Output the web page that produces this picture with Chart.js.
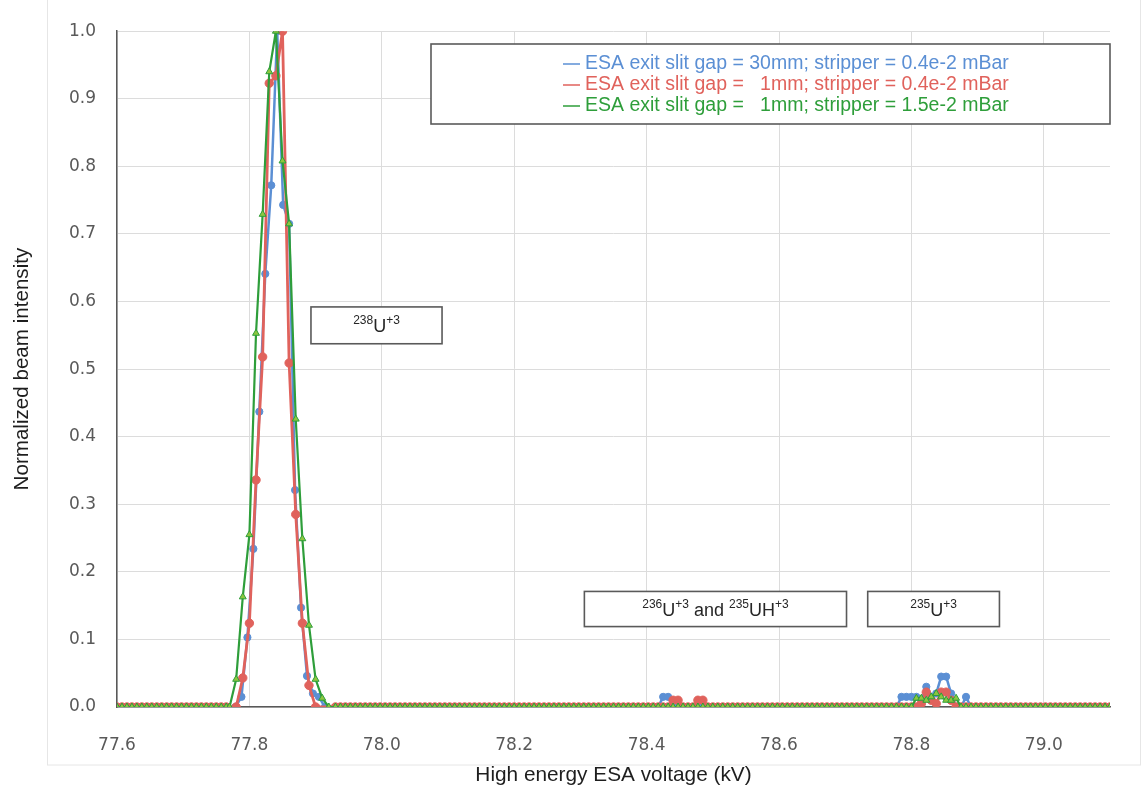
<!DOCTYPE html>
<html><head><meta charset="utf-8">
<script src="https://cdn.jsdelivr.net/npm/chart.js@4.4.1/dist/chart.umd.min.js"></script>
<style>html,body{margin:0;padding:0;background:#fff;overflow:hidden;}</style>
</head><body>
<canvas id="c" width="1143" height="790"></canvas>
<script>
// ---------- tick labels ----------
const xTickLabels = ['77.6','77.8','78.0','78.2','78.4','78.6','78.8','79.0'];
const yTickLabels = ['0.0','0.1','0.2','0.3','0.4','0.5','0.6','0.7','0.8','0.9','1.0'];

// ---------- series names ----------
const seriesLabels = [
  'ESA exit slit gap = 30mm; stripper = 0.4e-2 mBar',
  'ESA exit slit gap =   1mm; stripper = 0.4e-2 mBar',
  'ESA exit slit gap =   1mm; stripper = 1.5e-2 mBar'
];

// ---------- shared baseline scan segments (kV) and their intensities ----------
const scanLeftVoltage = [77.6,77.6075,77.615,77.6225,77.63,77.6375,77.645,77.6525,77.66,77.6675,
  77.675,77.6825,77.69,77.6975,77.705,77.7125,77.72,77.7275,77.735,77.7425,
  77.75,77.7575,77.765];
const scanLeftIntensity = [0,0,0,0,0,0,0,0,0,0, 0,0,0,0,0,0,0,0,0,0, 0,0,0];

const scanMidVoltage = [77.93,77.9375,77.945,77.9525,77.96,77.9675,77.975,77.9825,77.99,77.9975,
  78.005,78.0125,78.02,78.0275,78.035,78.0425,78.05,78.0575,78.065,78.0725,
  78.08,78.0875,78.095,78.1025,78.11,78.1175,78.125,78.1325,78.14,78.1475,
  78.155,78.1625,78.17,78.1775,78.185,78.1925,78.2,78.2075,78.215,78.2225,
  78.23,78.2375,78.245,78.2525,78.26,78.2675,78.275,78.2825,78.29,78.2975,
  78.305,78.3125,78.32,78.3275,78.335,78.3425,78.35,78.3575,78.365,78.3725,
  78.38,78.3875,78.395,78.4025,78.41,78.4175];
const scanMidIntensity = [0,0,0,0,0,0,0,0,0,0, 0,0,0,0,0,0,0,0,0,0,
  0,0,0,0,0,0,0,0,0,0, 0,0,0,0,0,0,0,0,0,0, 0,0,0,0,0,0,0,0,0,0,
  0,0,0,0,0,0,0,0,0,0, 0,0,0,0,0,0];

const scanGapVoltage = [78.545,78.5525,78.56,78.5675,78.575,78.5825,78.59,78.5975,78.605,78.6125,
  78.62,78.6275,78.635,78.6425,78.65,78.6575,78.665,78.6725,78.68,78.6875,
  78.695,78.7025,78.71,78.7175,78.725,78.7325,78.74,78.7475,78.755,78.7625,
  78.77];
const scanGapIntensity = [0,0,0,0,0,0,0,0,0,0, 0,0,0,0,0,0,0,0,0,0, 0,0,0,0,0,0,0,0,0,0, 0];

const scanRightVoltage = [78.905,78.9125,78.92,78.9275,78.935,78.9425,78.95,78.9575,78.965,78.9725,
  78.98,78.9875,78.995,79.0025,79.01,79.0175,79.025,79.0325,79.04,79.0475,
  79.055,79.0625,79.07,79.0775,79.085,79.0925,79.1];
const scanRightIntensity = [0,0,0,0,0,0,0,0,0,0, 0,0,0,0,0,0,0,0,0,0, 0,0,0,0,0,0,0];

// ---------- 238U+3 main peak ----------
const bluePeakVoltage   = [77.779,77.788,77.797,77.806,77.815,77.824,77.833,77.842,77.851,77.86,77.869,77.878,77.887,77.896,77.905,77.914];
const bluePeakIntensity = [0,0.015,0.103,0.234,0.437,0.641,0.772,1.0,0.743,0.715,0.321,0.147,0.046,0.02,0.015,0];
const redPeakVoltage    = [77.78,77.79,77.8,77.81,77.82,77.83,77.84,77.85,77.86,77.87,77.88,77.89,77.9];
const redPeakIntensity  = [0,0.043,0.124,0.336,0.518,0.923,0.934,1.0,0.509,0.285,0.124,0.032,0];
const greenPeakVoltage  = [77.77,77.78,77.79,77.8,77.81,77.82,77.83,77.84,77.85,77.86,77.87,77.88,77.89,77.9,77.91,77.92];
const greenPeakIntensity= [0,0.041,0.163,0.255,0.553,0.729,0.94,1.0,0.808,0.715,0.426,0.249,0.121,0.041,0.013,0];

// ---------- 236U+3 / 235UH+3 region ----------
const cluster1Voltage = [78.425,78.4325,78.44,78.4475,78.455,78.4625,78.47,78.4775,78.485,78.4925,78.5,78.5075,78.515,78.5225,78.53,78.5375];
const blueCluster1Intensity  = [0.015,0.015,0,0,0,0,0,0,0,0,0,0,0,0,0,0];
const redCluster1Intensity   = [0,0,0.01,0.01,0,0,0,0.01,0.01,0,0,0,0,0,0,0];
const greenCluster1Intensity = [0,0,0,0,0,0,0,0,0,0,0,0,0,0,0,0];

// ---------- 235U+3 region ----------
const cluster2Voltage = [78.7775,78.785,78.7925,78.8,78.8075,78.815,78.8225,78.83,78.8375,78.845,78.8525,78.86,78.8675,78.875,78.8825,78.89,78.8975];
const blueCluster2Intensity  = [0,0.015,0.015,0.015,0.015,0.01,0.03,0.015,0.02,0.045,0.045,0.02,0,0,0.015,0,0];
const redCluster2Intensity   = [0,0,0,0,0,0.005,0.022,0.01,0.005,0.022,0.022,0.01,0,0,0,0,0];
const greenCluster2Intensity = [0,0,0,0,0.013,0.013,0.01,0.015,0.02,0.015,0.01,0.01,0.013,0,0,0,0];

// ---------- annotation labels ----------
const noteTexts = [
  [{t:'238',sup:true},{t:'U'},{t:'+3',sup:true}],
  [{t:'236',sup:true},{t:'U'},{t:'+3',sup:true},{t:' and '},{t:'235',sup:true},{t:'UH'},{t:'+3',sup:true}],
  [{t:'235',sup:true},{t:'U'},{t:'+3',sup:true}]
];

function pts(xs, ys){ return xs.map((x,i)=>({x:x, y:ys[i]})); }
function series(peakV, peakI, c1, c2){
  return [].concat(
    pts(scanLeftVoltage, scanLeftIntensity),
    pts(peakV, peakI),
    pts(scanMidVoltage, scanMidIntensity),
    pts(cluster1Voltage, c1),
    pts(scanGapVoltage, scanGapIntensity),
    pts(cluster2Voltage, c2),
    pts(scanRightVoltage, scanRightIntensity)
  ).sort((a,b)=>a.x-b.x);
}
const blueData  = series(bluePeakVoltage, bluePeakIntensity, blueCluster1Intensity, blueCluster2Intensity);
const redData   = series(redPeakVoltage, redPeakIntensity, redCluster1Intensity, redCluster2Intensity);
const greenData = series(greenPeakVoltage, greenPeakIntensity, greenCluster1Intensity, greenCluster2Intensity);

const BLUE = '#5b8fd4', RED = '#e0625c', GREEN = '#2e9e3a', GREEN_FILL = '#8dc63f';
const TITLE_FONT = 'Liberation Sans, Arial, sans-serif';

function drawRich(ctx, parts, cx, cy, baseSize, supSize){
  const fb = baseSize + 'px ' + TITLE_FONT, fs = supSize + 'px ' + TITLE_FONT;
  let w = 0;
  parts.forEach(p => { ctx.font = p.sup ? fs : fb; w += ctx.measureText(p.t).width; });
  let x = cx - w/2;
  ctx.textBaseline = 'alphabetic'; ctx.textAlign = 'left'; ctx.fillStyle = '#262626';
  parts.forEach(p => {
    ctx.font = p.sup ? fs : fb;
    ctx.fillText(p.t, x, p.sup ? cy - 1 : cy + 6.5);
    x += ctx.measureText(p.t).width;
  });
}

const overlay = {
  id: 'overlay',
  beforeDraw(chart, args, o){
    const c = chart.ctx; c.save();
    c.strokeStyle = '#e6e6e6'; c.lineWidth = 1;
    c.strokeRect(o.frame[0]+0.5, o.frame[1], o.frame[2], o.frame[3]);
    c.restore();
  },
  afterDatasetsDraw(chart, args, o){
    const {ctx, scales:{x, y}} = chart;
    ctx.save();
    o.boxes.forEach((b, i) => {
      const l = x.getPixelForValue(b[0]), r = x.getPixelForValue(b[1]);
      const t = y.getPixelForValue(b[2]), bt = y.getPixelForValue(b[3]);
      ctx.fillStyle = '#fff'; ctx.fillRect(l, t, r-l, bt-t);
      ctx.strokeStyle = '#5a5a5a'; ctx.lineWidth = 1.6; ctx.strokeRect(l, t, r-l, bt-t);
      drawRich(ctx, noteTexts[i], (l+r)/2, (t+bt)/2, 18, 12);
    });
    // legend box
    const L = o.legend;
    ctx.fillStyle = '#fff'; ctx.fillRect(L.left, L.top, L.right-L.left, L.bottom-L.top);
    ctx.strokeStyle = '#5a5a5a'; ctx.lineWidth = 1.6; ctx.strokeRect(L.left, L.top, L.right-L.left, L.bottom-L.top);
    ctx.font = L.fontSize + 'px ' + TITLE_FONT; ctx.textBaseline = 'middle'; ctx.textAlign = 'left';
    chart.data.datasets.forEach((ds, i) => {
      const yy = L.rowY[i];
      ctx.strokeStyle = ds.borderColor; ctx.lineWidth = 1.5;
      ctx.beginPath(); ctx.moveTo(L.dashX0, yy+1); ctx.lineTo(L.dashX1, yy+1); ctx.stroke();
      ctx.fillStyle = ds.borderColor;
      ctx.fillText(seriesLabels[i], L.textX, yy+1);
    });
    ctx.restore();
  }
};

const xTickValues = xTickLabels.map(parseFloat);
const yTickValues = yTickLabels.map(parseFloat);

new Chart(document.getElementById('c'), {
  type: 'scatter',
  data: { datasets: [
    { label: seriesLabels[0], data: blueData, showLine: true, borderColor: BLUE, backgroundColor: BLUE,
      borderWidth: 2.5, pointRadius: 3.6, pointBorderWidth: 1, pointStyle: 'circle', order: 3 },
    { label: seriesLabels[1], data: redData, showLine: true, borderColor: RED, backgroundColor: RED,
      borderWidth: 2.8, pointRadius: 4.2, pointBorderWidth: 1, pointStyle: 'circle', order: 2 },
    { label: seriesLabels[2], data: greenData, showLine: true, borderColor: GREEN, backgroundColor: GREEN_FILL,
      pointBorderColor: GREEN, borderWidth: 2.2, pointRadius: 4, pointBorderWidth: 1, pointStyle: 'triangle', order: 1 }
  ]},
  options: {
    responsive: false, animation: false, devicePixelRatio: 1,
    layout: { padding: { top: 28, right: 33, bottom: 0, left: 0 } },
    elements: { line: { tension: 0 } },
    scales: {
      x: {
        type: 'linear', min: 77.6, max: 79.1,
        afterBuildTicks: s => { s.ticks = xTickValues.map(v => ({ value: v })); },
        afterFit: s => { s.height = 83; },
        ticks: { autoSkip: false, maxRotation: 0, padding: 28, color: '#595959',
          font: { family: 'DejaVu Sans', size: 17 },
          callback: v => xTickLabels[xTickValues.findIndex(t => Math.abs(t - v) < 1e-6)] },
        grid: { color: '#dcdcdc', lineWidth: 1, drawTicks: false },
        border: { color: '#595959', width: 1.5 },
        title: { display: true, text: 'High energy ESA voltage (kV)', color: '#1e1e1e',
          font: { family: TITLE_FONT, size: 20.8 }, padding: { top: 0, bottom: 2 } }
      },
      y: {
        type: 'linear', min: 0, max: 1,
        afterBuildTicks: s => { s.ticks = yTickValues.map(v => ({ value: v })); },
        afterFit: s => { s.width = 117; },
        ticks: { autoSkip: false, padding: 21, color: '#595959',
          font: { family: 'DejaVu Sans', size: 17 },
          callback: v => yTickLabels[yTickValues.findIndex(t => Math.abs(t - v) < 1e-6)] },
        grid: { color: '#dcdcdc', lineWidth: 1, drawTicks: false },
        border: { color: '#595959', width: 1.5 },
        title: { display: true, text: 'Normalized beam intensity', color: '#1e1e1e',
          font: { family: TITLE_FONT, size: 20.6 }, padding: { top: 10, bottom: 0 } }
      }
    },
    plugins: {
      legend: { display: false },
      tooltip: { enabled: false },
      overlay: {
        frame: [47, -1, 1093, 766],
        boxes: [
          [77.893, 78.091, 0.592, 0.5375],
          [78.306, 78.702, 0.171, 0.119],
          [78.734, 78.933, 0.171, 0.119]
        ],
        legend: { left: 431, top: 44, right: 1110, bottom: 124, fontSize: 19.5,
          rowY: [63, 84, 105], dashX0: 563, dashX1: 580, textX: 585 }
      }
    }
  },
  plugins: [overlay]
});
</script>
</body></html>
